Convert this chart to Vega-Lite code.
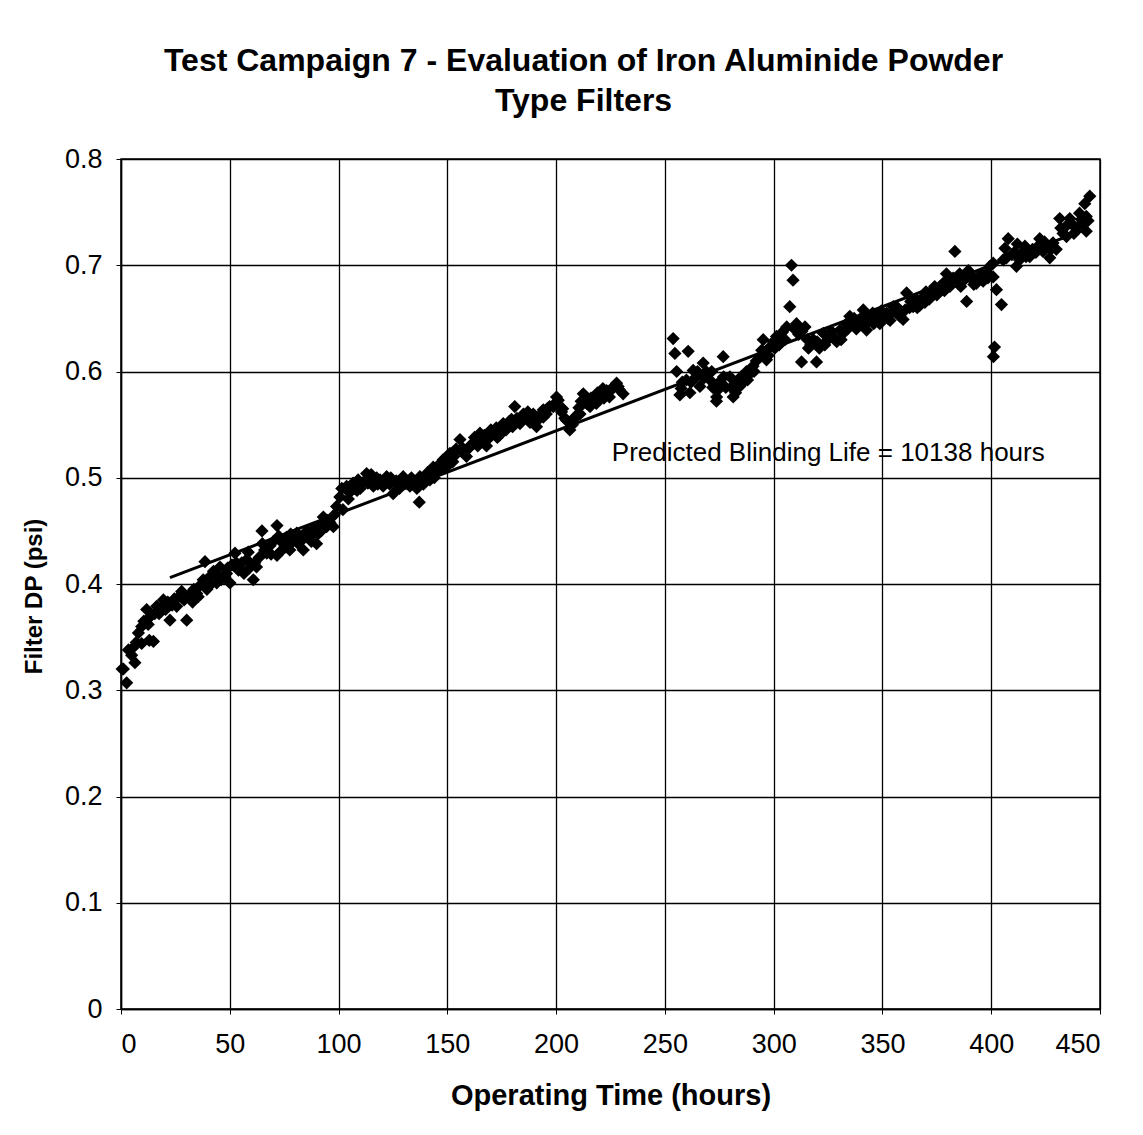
{
  "$schema": "https://vega.github.io/schema/vega-lite/v6.json",
  "width": 979,
  "height": 850,
  "autosize": {"type": "none"},
  "padding": {"left": 121, "top": 159, "right": 43, "bottom": 126},
  "background": "white",
  "title": {
    "text": ["Test Campaign 7 - Evaluation of Iron Aluminide Powder", "Type Filters"],
    "font": "Liberation Sans",
    "fontSize": 32,
    "fontWeight": "bold",
    "color": "black",
    "anchor": "middle",
    "dx": -27,
    "offset": 27,
    "lineHeight": 40
  },
  "datasets": {
    "pts": [
      {"hours": 0.5, "dp": 0.32}, {"hours": 1.1, "dp": 0.32}, {"hours": 2.6, "dp": 0.307}, {"hours": 3.4, "dp": 0.338},
      {"hours": 4.9, "dp": 0.333}, {"hours": 6.4, "dp": 0.326}, {"hours": 7, "dp": 0.345}, {"hours": 8, "dp": 0.354},
      {"hours": 9.5, "dp": 0.36}, {"hours": 9.5, "dp": 0.344}, {"hours": 10.5, "dp": 0.365}, {"hours": 11.8, "dp": 0.376},
      {"hours": 13.3, "dp": 0.369}, {"hours": 13, "dp": 0.347}, {"hours": 14.9, "dp": 0.346}, {"hours": 16.4, "dp": 0.379},
      {"hours": 17.5, "dp": 0.372}, {"hours": 19.5, "dp": 0.385}, {"hours": 20.5, "dp": 0.376}, {"hours": 22.5, "dp": 0.366},
      {"hours": 23.5, "dp": 0.38}, {"hours": 25.6, "dp": 0.379}, {"hours": 27.9, "dp": 0.393}, {"hours": 29, "dp": 0.385},
      {"hours": 30.2, "dp": 0.366}, {"hours": 31.5, "dp": 0.39}, {"hours": 32.9, "dp": 0.383}, {"hours": 34.8, "dp": 0.391},
      {"hours": 36, "dp": 0.398}, {"hours": 37.8, "dp": 0.404}, {"hours": 38.6, "dp": 0.421}, {"hours": 39.5, "dp": 0.395},
      {"hours": 40.9, "dp": 0.407}, {"hours": 42.5, "dp": 0.412}, {"hours": 44, "dp": 0.401}, {"hours": 45.5, "dp": 0.416},
      {"hours": 47.1, "dp": 0.407}, {"hours": 48.5, "dp": 0.41}, {"hours": 50.1, "dp": 0.401}, {"hours": 51, "dp": 0.418},
      {"hours": 52.4, "dp": 0.429}, {"hours": 54, "dp": 0.413}, {"hours": 55.5, "dp": 0.42}, {"hours": 57.8, "dp": 0.423},
      {"hours": 59, "dp": 0.415}, {"hours": 60.8, "dp": 0.404}, {"hours": 62.3, "dp": 0.416}, {"hours": 63.5, "dp": 0.425},
      {"hours": 64.8, "dp": 0.45}, {"hours": 66, "dp": 0.432}, {"hours": 67, "dp": 0.429}, {"hours": 68.5, "dp": 0.436},
      {"hours": 70, "dp": 0.44}, {"hours": 71.7, "dp": 0.455}, {"hours": 71.7, "dp": 0.427}, {"hours": 73, "dp": 0.43},
      {"hours": 74.6, "dp": 0.438}, {"hours": 76, "dp": 0.444}, {"hours": 77.6, "dp": 0.432}, {"hours": 79, "dp": 0.44},
      {"hours": 80.8, "dp": 0.448}, {"hours": 82.5, "dp": 0.44}, {"hours": 83.8, "dp": 0.432}, {"hours": 85.5, "dp": 0.45},
      {"hours": 86.9, "dp": 0.445}, {"hours": 88.5, "dp": 0.452}, {"hours": 89.9, "dp": 0.438}, {"hours": 91.5, "dp": 0.455},
      {"hours": 93, "dp": 0.463}, {"hours": 94.5, "dp": 0.454}, {"hours": 96, "dp": 0.458}, {"hours": 97.6, "dp": 0.454},
      {"hours": 99.1, "dp": 0.473}, {"hours": 100.6, "dp": 0.482}, {"hours": 102, "dp": 0.47}, {"hours": 103.7, "dp": 0.492},
      {"hours": 105, "dp": 0.486}, {"hours": 106.7, "dp": 0.495}, {"hours": 108.5, "dp": 0.488}, {"hours": 110, "dp": 0.49},
      {"hours": 111.5, "dp": 0.496}, {"hours": 112.9, "dp": 0.504}, {"hours": 114.5, "dp": 0.497}, {"hours": 116, "dp": 0.492},
      {"hours": 117.5, "dp": 0.5}, {"hours": 119.1, "dp": 0.498}, {"hours": 120.5, "dp": 0.492}, {"hours": 122.1, "dp": 0.501},
      {"hours": 123.5, "dp": 0.494}, {"hours": 125.1, "dp": 0.485}, {"hours": 126.5, "dp": 0.497}, {"hours": 128, "dp": 0.49},
      {"hours": 129.7, "dp": 0.501}, {"hours": 131, "dp": 0.495}, {"hours": 132.8, "dp": 0.492}, {"hours": 134.5, "dp": 0.497},
      {"hours": 136, "dp": 0.49}, {"hours": 137.1, "dp": 0.477}, {"hours": 137.4, "dp": 0.501}, {"hours": 139, "dp": 0.494},
      {"hours": 140.5, "dp": 0.5}, {"hours": 142, "dp": 0.498}, {"hours": 143.5, "dp": 0.51}, {"hours": 145, "dp": 0.505},
      {"hours": 146.5, "dp": 0.513}, {"hours": 148.1, "dp": 0.517}, {"hours": 149.5, "dp": 0.51}, {"hours": 151.2, "dp": 0.523},
      {"hours": 152.5, "dp": 0.515}, {"hours": 154, "dp": 0.527}, {"hours": 155.8, "dp": 0.536}, {"hours": 157, "dp": 0.528},
      {"hours": 158.8, "dp": 0.52}, {"hours": 160.4, "dp": 0.53}, {"hours": 161.9, "dp": 0.532}, {"hours": 163.5, "dp": 0.536},
      {"hours": 165, "dp": 0.542}, {"hours": 166.5, "dp": 0.535}, {"hours": 168, "dp": 0.53}, {"hours": 169.5, "dp": 0.538},
      {"hours": 171.1, "dp": 0.542}, {"hours": 172.5, "dp": 0.547}, {"hours": 174, "dp": 0.54}, {"hours": 175.7, "dp": 0.551},
      {"hours": 177, "dp": 0.545}, {"hours": 178.5, "dp": 0.553}, {"hours": 180, "dp": 0.548}, {"hours": 181, "dp": 0.567},
      {"hours": 182, "dp": 0.556}, {"hours": 183.4, "dp": 0.551}, {"hours": 185, "dp": 0.56}, {"hours": 186.5, "dp": 0.557},
      {"hours": 188, "dp": 0.552}, {"hours": 189.5, "dp": 0.56}, {"hours": 191, "dp": 0.548}, {"hours": 192.5, "dp": 0.556},
      {"hours": 194.1, "dp": 0.557}, {"hours": 194.1, "dp": 0.564}, {"hours": 195.5, "dp": 0.56}, {"hours": 197, "dp": 0.567},
      {"hours": 198.7, "dp": 0.567}, {"hours": 200.2, "dp": 0.576}, {"hours": 201, "dp": 0.573}, {"hours": 202.5, "dp": 0.562},
      {"hours": 204, "dp": 0.556}, {"hours": 204.8, "dp": 0.554}, {"hours": 206.3, "dp": 0.545}, {"hours": 207.5, "dp": 0.55},
      {"hours": 209, "dp": 0.558}, {"hours": 210.5, "dp": 0.566}, {"hours": 211.5, "dp": 0.572}, {"hours": 212.5, "dp": 0.579},
      {"hours": 214, "dp": 0.57}, {"hours": 215.6, "dp": 0.567}, {"hours": 217, "dp": 0.575}, {"hours": 218.5, "dp": 0.57},
      {"hours": 220.1, "dp": 0.576}, {"hours": 221.5, "dp": 0.584}, {"hours": 223.2, "dp": 0.582}, {"hours": 224.5, "dp": 0.576},
      {"hours": 226, "dp": 0.585}, {"hours": 227.8, "dp": 0.589}, {"hours": 229, "dp": 0.583}, {"hours": 230.8, "dp": 0.579},
      {"hours": 5.5, "dp": 0.34}, {"hours": 12.5, "dp": 0.362}, {"hours": 15.5, "dp": 0.372}, {"hours": 18.5, "dp": 0.378},
      {"hours": 21.5, "dp": 0.383}, {"hours": 24.5, "dp": 0.386}, {"hours": 26.5, "dp": 0.388}, {"hours": 33.5, "dp": 0.395},
      {"hours": 35.5, "dp": 0.388}, {"hours": 41.5, "dp": 0.4}, {"hours": 43, "dp": 0.41}, {"hours": 46, "dp": 0.404},
      {"hours": 49, "dp": 0.415}, {"hours": 53, "dp": 0.42}, {"hours": 56.5, "dp": 0.41}, {"hours": 58.5, "dp": 0.43},
      {"hours": 61.5, "dp": 0.42}, {"hours": 65, "dp": 0.438}, {"hours": 69, "dp": 0.428}, {"hours": 72.5, "dp": 0.445},
      {"hours": 75.5, "dp": 0.435}, {"hours": 78, "dp": 0.447}, {"hours": 81.5, "dp": 0.438}, {"hours": 84.5, "dp": 0.444},
      {"hours": 87.5, "dp": 0.44}, {"hours": 90.5, "dp": 0.447}, {"hours": 92, "dp": 0.45}, {"hours": 95, "dp": 0.46},
      {"hours": 98, "dp": 0.465}, {"hours": 101.5, "dp": 0.49}, {"hours": 104.5, "dp": 0.48}, {"hours": 107.5, "dp": 0.49},
      {"hours": 109, "dp": 0.498}, {"hours": 113.5, "dp": 0.495}, {"hours": 115, "dp": 0.503}, {"hours": 118, "dp": 0.494},
      {"hours": 121, "dp": 0.497}, {"hours": 124, "dp": 0.5}, {"hours": 127, "dp": 0.493}, {"hours": 130, "dp": 0.497},
      {"hours": 133.5, "dp": 0.5}, {"hours": 135, "dp": 0.494}, {"hours": 138, "dp": 0.497}, {"hours": 141, "dp": 0.505},
      {"hours": 144, "dp": 0.5}, {"hours": 147, "dp": 0.508}, {"hours": 150, "dp": 0.52}, {"hours": 153, "dp": 0.52},
      {"hours": 156.5, "dp": 0.525}, {"hours": 159.5, "dp": 0.527}, {"hours": 162.5, "dp": 0.538}, {"hours": 164, "dp": 0.53},
      {"hours": 167, "dp": 0.54}, {"hours": 170, "dp": 0.545}, {"hours": 173, "dp": 0.538}, {"hours": 176, "dp": 0.547},
      {"hours": 179.5, "dp": 0.555}, {"hours": 184, "dp": 0.556}, {"hours": 187, "dp": 0.562}, {"hours": 190, "dp": 0.553},
      {"hours": 193, "dp": 0.56}, {"hours": 196, "dp": 0.565}, {"hours": 199.5, "dp": 0.57}, {"hours": 203, "dp": 0.565},
      {"hours": 208, "dp": 0.555}, {"hours": 211, "dp": 0.56}, {"hours": 213, "dp": 0.574}, {"hours": 216, "dp": 0.575},
      {"hours": 219, "dp": 0.58}, {"hours": 222, "dp": 0.575}, {"hours": 225, "dp": 0.582}, {"hours": 228.5, "dp": 0.586},
      {"hours": 253.8, "dp": 0.631}, {"hours": 254.6, "dp": 0.617}, {"hours": 255.4, "dp": 0.6}, {"hours": 256.9, "dp": 0.578},
      {"hours": 258, "dp": 0.59}, {"hours": 259.9, "dp": 0.592}, {"hours": 260.7, "dp": 0.619}, {"hours": 261.5, "dp": 0.58},
      {"hours": 263, "dp": 0.601}, {"hours": 264.5, "dp": 0.595}, {"hours": 266.1, "dp": 0.586}, {"hours": 267.6, "dp": 0.608},
      {"hours": 269, "dp": 0.6}, {"hours": 270.7, "dp": 0.592}, {"hours": 272, "dp": 0.585}, {"hours": 273.7, "dp": 0.572},
      {"hours": 273.8, "dp": 0.576}, {"hours": 275, "dp": 0.59}, {"hours": 276.8, "dp": 0.614}, {"hours": 278, "dp": 0.585},
      {"hours": 279.9, "dp": 0.595}, {"hours": 281.4, "dp": 0.576}, {"hours": 282.5, "dp": 0.58}, {"hours": 284.4, "dp": 0.586},
      {"hours": 286, "dp": 0.59}, {"hours": 287.5, "dp": 0.6}, {"hours": 289.1, "dp": 0.598}, {"hours": 290.5, "dp": 0.605},
      {"hours": 292, "dp": 0.61}, {"hours": 293.7, "dp": 0.614}, {"hours": 295.2, "dp": 0.63}, {"hours": 296.7, "dp": 0.611},
      {"hours": 298.3, "dp": 0.623}, {"hours": 299.8, "dp": 0.628}, {"hours": 301.3, "dp": 0.633}, {"hours": 302.5, "dp": 0.625},
      {"hours": 304, "dp": 0.637}, {"hours": 305.2, "dp": 0.63}, {"hours": 306, "dp": 0.642}, {"hours": 307.4, "dp": 0.661},
      {"hours": 308.2, "dp": 0.7}, {"hours": 308.9, "dp": 0.686}, {"hours": 310.5, "dp": 0.645}, {"hours": 311.5, "dp": 0.635},
      {"hours": 312.8, "dp": 0.609}, {"hours": 314.4, "dp": 0.642}, {"hours": 315.5, "dp": 0.63}, {"hours": 317, "dp": 0.625},
      {"hours": 318.2, "dp": 0.63}, {"hours": 319.7, "dp": 0.609}, {"hours": 321, "dp": 0.622}, {"hours": 322.8, "dp": 0.636},
      {"hours": 324, "dp": 0.628}, {"hours": 325.5, "dp": 0.633}, {"hours": 327.4, "dp": 0.633}, {"hours": 329, "dp": 0.628},
      {"hours": 330.5, "dp": 0.639}, {"hours": 332, "dp": 0.636}, {"hours": 333.5, "dp": 0.645}, {"hours": 335, "dp": 0.652},
      {"hours": 336.5, "dp": 0.645}, {"hours": 338, "dp": 0.64}, {"hours": 339.6, "dp": 0.649}, {"hours": 341.2, "dp": 0.658},
      {"hours": 342.7, "dp": 0.639}, {"hours": 344, "dp": 0.648}, {"hours": 345.5, "dp": 0.655}, {"hours": 347.3, "dp": 0.652},
      {"hours": 348.8, "dp": 0.645}, {"hours": 350.3, "dp": 0.65}, {"hours": 351.9, "dp": 0.655}, {"hours": 353.5, "dp": 0.648},
      {"hours": 355, "dp": 0.661}, {"hours": 356.5, "dp": 0.655}, {"hours": 358, "dp": 0.652}, {"hours": 359.5, "dp": 0.649},
      {"hours": 361.1, "dp": 0.674}, {"hours": 362.5, "dp": 0.66}, {"hours": 364.1, "dp": 0.661}, {"hours": 365.5, "dp": 0.668},
      {"hours": 367, "dp": 0.662}, {"hours": 368.7, "dp": 0.67}, {"hours": 370, "dp": 0.675}, {"hours": 371.5, "dp": 0.668},
      {"hours": 373.3, "dp": 0.677}, {"hours": 375, "dp": 0.672}, {"hours": 376.5, "dp": 0.68}, {"hours": 377.9, "dp": 0.683},
      {"hours": 379.4, "dp": 0.692}, {"hours": 381, "dp": 0.68}, {"hours": 382.5, "dp": 0.688}, {"hours": 383.3, "dp": 0.713},
      {"hours": 384, "dp": 0.686}, {"hours": 385.5, "dp": 0.692}, {"hours": 387, "dp": 0.685}, {"hours": 388.6, "dp": 0.69},
      {"hours": 388.7, "dp": 0.666}, {"hours": 390.5, "dp": 0.688}, {"hours": 392, "dp": 0.682}, {"hours": 393.2, "dp": 0.683},
      {"hours": 394.8, "dp": 0.689}, {"hours": 396.3, "dp": 0.685}, {"hours": 397.8, "dp": 0.692}, {"hours": 399.4, "dp": 0.699},
      {"hours": 400.9, "dp": 0.702}, {"hours": 400.9, "dp": 0.689}, {"hours": 401, "dp": 0.614}, {"hours": 401.5, "dp": 0.623},
      {"hours": 402.4, "dp": 0.677}, {"hours": 404.7, "dp": 0.663}, {"hours": 406.3, "dp": 0.716}, {"hours": 407, "dp": 0.707},
      {"hours": 407.8, "dp": 0.725}, {"hours": 409.5, "dp": 0.71}, {"hours": 411.6, "dp": 0.699}, {"hours": 413, "dp": 0.705},
      {"hours": 414.6, "dp": 0.713}, {"hours": 416, "dp": 0.708}, {"hours": 417.7, "dp": 0.708}, {"hours": 419, "dp": 0.715},
      {"hours": 420.5, "dp": 0.712}, {"hours": 422.3, "dp": 0.725}, {"hours": 423.8, "dp": 0.713}, {"hours": 425.3, "dp": 0.718},
      {"hours": 426.9, "dp": 0.707}, {"hours": 428.4, "dp": 0.721}, {"hours": 429.9, "dp": 0.715}, {"hours": 431.5, "dp": 0.744},
      {"hours": 433, "dp": 0.73}, {"hours": 434.6, "dp": 0.727}, {"hours": 436.1, "dp": 0.744}, {"hours": 437.5, "dp": 0.738},
      {"hours": 439.1, "dp": 0.735}, {"hours": 440.6, "dp": 0.749}, {"hours": 441.4, "dp": 0.743}, {"hours": 443, "dp": 0.758},
      {"hours": 443.7, "dp": 0.732}, {"hours": 443.7, "dp": 0.746}, {"hours": 445.3, "dp": 0.765},
      {"hours": 257.5, "dp": 0.584}, {"hours": 262, "dp": 0.59}, {"hours": 265, "dp": 0.6}, {"hours": 268, "dp": 0.594},
      {"hours": 271.5, "dp": 0.6}, {"hours": 274, "dp": 0.582}, {"hours": 277, "dp": 0.595}, {"hours": 280.5, "dp": 0.585},
      {"hours": 283, "dp": 0.59}, {"hours": 285, "dp": 0.595}, {"hours": 288, "dp": 0.592}, {"hours": 291, "dp": 0.6},
      {"hours": 294.5, "dp": 0.62}, {"hours": 297.5, "dp": 0.615}, {"hours": 300.5, "dp": 0.622}, {"hours": 303, "dp": 0.63},
      {"hours": 309.5, "dp": 0.64}, {"hours": 313, "dp": 0.638}, {"hours": 316, "dp": 0.622}, {"hours": 320, "dp": 0.628},
      {"hours": 323.5, "dp": 0.625}, {"hours": 326.5, "dp": 0.638}, {"hours": 331, "dp": 0.63}, {"hours": 334, "dp": 0.64},
      {"hours": 337, "dp": 0.65}, {"hours": 340.5, "dp": 0.645}, {"hours": 343.5, "dp": 0.652}, {"hours": 346, "dp": 0.645},
      {"hours": 349.5, "dp": 0.657}, {"hours": 352.5, "dp": 0.65}, {"hours": 354, "dp": 0.655}, {"hours": 357, "dp": 0.66},
      {"hours": 360.5, "dp": 0.658}, {"hours": 363, "dp": 0.666}, {"hours": 366, "dp": 0.66}, {"hours": 369.5, "dp": 0.665},
      {"hours": 372, "dp": 0.672}, {"hours": 374, "dp": 0.68}, {"hours": 378.5, "dp": 0.676}, {"hours": 380.5, "dp": 0.686},
      {"hours": 386, "dp": 0.68}, {"hours": 389.5, "dp": 0.695}, {"hours": 391, "dp": 0.69}, {"hours": 395.5, "dp": 0.692},
      {"hours": 398.5, "dp": 0.688}, {"hours": 405.5, "dp": 0.705}, {"hours": 410.5, "dp": 0.712}, {"hours": 412, "dp": 0.72},
      {"hours": 415.5, "dp": 0.718}, {"hours": 418.5, "dp": 0.712}, {"hours": 421.5, "dp": 0.718}, {"hours": 424.5, "dp": 0.722},
      {"hours": 427.5, "dp": 0.715}, {"hours": 432, "dp": 0.735}, {"hours": 435, "dp": 0.738}, {"hours": 438, "dp": 0.73},
      {"hours": 442, "dp": 0.74}, {"hours": 444.5, "dp": 0.742}
    ],
    "trend": [
      {"hours": 22.5, "dp": 0.406},
      {"hours": 445, "dp": 0.735}
    ],
    "note": [
      {"hours": 225.6, "dp": 0.523, "label": "Predicted Blinding Life = 10138 hours"}
    ]
  },
  "layer": [
    {
      "data": {"name": "pts"},
      "mark": {"type": "point", "shape": "diamond", "filled": true, "color": "black", "opacity": 1, "size": 175},
      "encoding": {
        "x": {
          "field": "hours", "type": "quantitative",
          "scale": {"domain": [0, 450], "nice": false, "zero": true},
          "axis": {"title": "Operating Time (hours)", "values": [0, 50, 100, 150, 200, 250, 300, 350, 400, 450]}
        },
        "y": {
          "field": "dp", "type": "quantitative",
          "scale": {"domain": [0, 0.8], "nice": false},
          "axis": {"title": "Filter DP (psi)", "values": [0, 0.1, 0.2, 0.3, 0.4, 0.5, 0.6, 0.7, 0.8], "format": ".1~f"}
        }
      }
    },
    {
      "data": {"name": "trend"},
      "mark": {"type": "line", "color": "black", "strokeWidth": 3},
      "encoding": {
        "x": {"field": "hours", "type": "quantitative"},
        "y": {"field": "dp", "type": "quantitative"}
      }
    },
    {
      "data": {"name": "note"},
      "mark": {"type": "text", "align": "left", "baseline": "middle", "font": "Liberation Sans", "fontSize": 26, "color": "black"},
      "encoding": {
        "x": {"field": "hours", "type": "quantitative"},
        "y": {"field": "dp", "type": "quantitative"},
        "text": {"field": "label"}
      }
    }
  ],
  "config": {
    "view": {"stroke": "black", "strokeWidth": 1.5},
    "axis": {
      "domain": true,
      "domainColor": "black",
      "domainWidth": 1.5,
      "grid": true,
      "gridColor": "black",
      "gridWidth": 1.3,
      "gridOpacity": 1,
      "ticks": true,
      "tickColor": "black",
      "tickSize": 5,
      "labelFont": "Liberation Sans",
      "labelFontSize": 27,
      "labelColor": "black",
      "titleFont": "Liberation Sans",
      "titleFontWeight": "bold",
      "titleColor": "black"
    },
    "axisX": {"labelPadding": 17, "titlePadding": 24, "titleFontSize": 29},
    "axisY": {"labelPadding": 14, "titlePadding": 18, "titleFontSize": 24, "titleY": 437}
  }
}
